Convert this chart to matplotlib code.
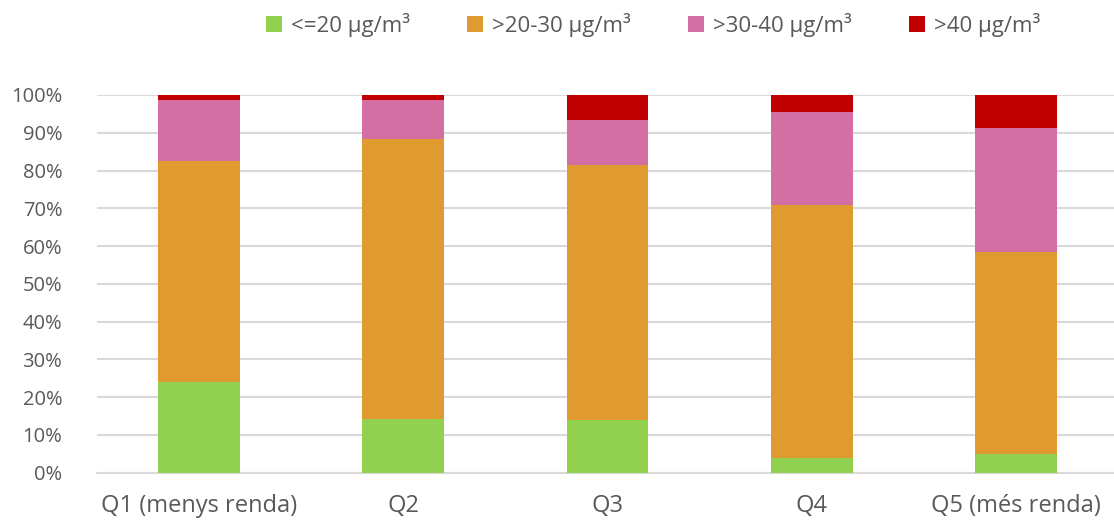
import numpy as np
import matplotlib.pyplot as plt
from matplotlib.patches import Patch

plt.rcParams['font.family'] = ['Open Sans', 'DejaVu Sans']

# quintils de renda i % de població per nivell de NO2
categories = ['Q1 (menys renda)', 'Q2', 'Q3', 'Q4', 'Q5 (més renda)']
labels = ['<=20 µg/m³', '>20-30 µg/m³', '>30-40 µg/m³', '>40 µg/m³']
le20 = [24.0, 14.1, 13.9, 3.8, 4.9]
g20_30 = [58.4, 74.2, 67.6, 67.1, 53.5]
g30_40 = [16.3, 10.4, 11.9, 24.5, 32.9]
g40 = [1.3, 1.3, 6.6, 4.6, 8.7]
colors = ['#92D050', '#E09B30', '#D36FA3', '#C00000']

fig = plt.figure(figsize=(11.14, 5.22), dpi=100)
ax = fig.add_axes([97/1114, 1-472.7/522, 1017/1114, 377.7/522])

x = np.arange(len(categories))
bottom = np.zeros(len(categories))
for vals, c in zip([le20, g20_30, g30_40, g40], colors):
    vals = np.array(vals) / 100
    ax.bar(x, vals, 0.4, bottom=bottom, color=c, zorder=3)
    bottom += vals

ax.set_xlim(-0.5, 4.48)
ax.set_ylim(0, 1)
ax.set_yticks(np.arange(0, 1.01, 0.1))
ax.set_yticklabels(['%d%%' % v for v in range(0, 101, 10)])
ax.set_xticks(x)
ax.set_xticklabels(categories)
ax.yaxis.grid(True, color='#D9D9D9', linewidth=1.5, zorder=0)
for s in ['top', 'right', 'left']:
    ax.spines[s].set_visible(False)
ax.spines['bottom'].set_color('#D9D9D9')
ax.spines['bottom'].set_linewidth(1.5)
ax.tick_params(length=0, colors='#595959')
ax.tick_params(axis='y', pad=25, labelsize=14.5)
ax.tick_params(axis='x', pad=15, labelsize=17)

handles = [Patch(facecolor=c) for c in colors]
fig.legend(handles, labels, loc='center', bbox_to_anchor=(653/1114, 1-25/522),
           ncol=4, frameon=False, fontsize=16, labelcolor='#595959',
           handlelength=0.7, handleheight=0.7, handletextpad=0.4, columnspacing=2.6)

fig.savefig('out.png', dpi=100)
